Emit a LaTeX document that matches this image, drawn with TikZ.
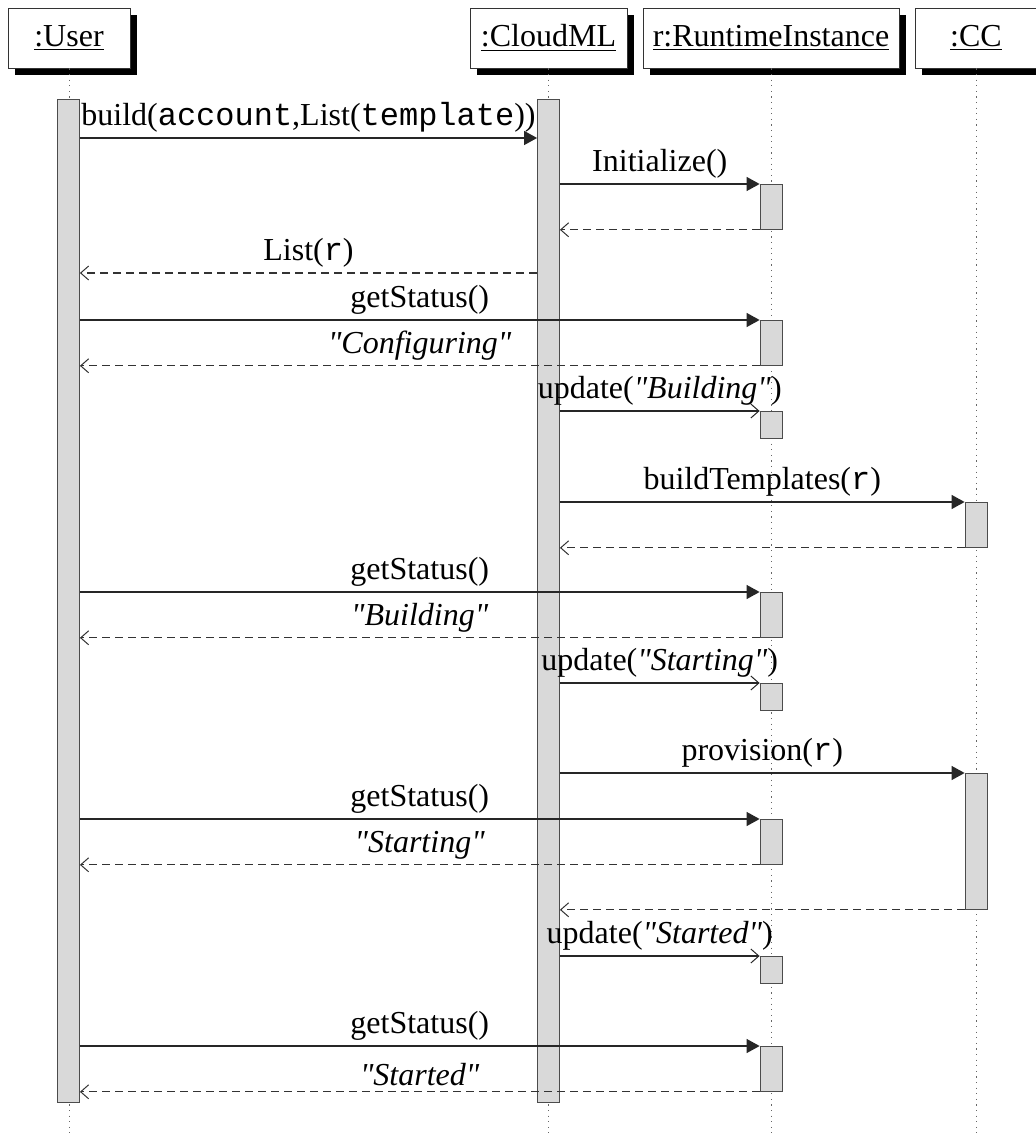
\documentclass[tikz,border=0pt]{standalone}
\usepackage{fontspec}
\setmainfont{Liberation Serif}[Ligatures=TeXOff]
\setmonofont{Liberation Mono}
\usetikzlibrary{arrows.meta, shadows}

\begin{document}
\begin{tikzpicture}[x=0.5pt, y=-0.5pt, font=\fontsize{16}{19}\selectfont,
  head/.style={draw=black!80, fill=white, minimum height=30pt, inner sep=0pt,
    drop shadow={shadow xshift=3.5pt, shadow yshift=-3.5pt, fill=black, opacity=1}},
  bar/.style={draw=black!70, fill=black!15, minimum width=11pt, inner sep=0pt, anchor=north},
  life/.style={black!60, dash pattern=on 0.6pt off 2.2pt},
  call/.style={draw=black!85, line width=0.6pt, -{Triangle[length=6.5pt,width=7pt]}},
  async/.style={draw=black!85, line width=0.6pt, -{Straight Barb[length=4pt,width=7pt,line width=0.5pt]}},
  ret/.style={draw=black!80, line width=0.6pt, dash pattern=on 4pt off 2.5pt,
    -{Straight Barb[length=4pt,width=7pt,line width=0.5pt]}},
  msg/.style={above, inner sep=2.5pt, midway}]
\useasboundingbox (0,0) rectangle (1035,1133);

% objects
\node[head, minimum width=61pt] (user) at (69,38) {\underline{:User}};
\node[head, minimum width=78.5pt] (cloud) at (548.5,38) {\underline{:CloudML}};
\node[head, minimum width=128pt] (rt) at (771,38) {\underline{r:RuntimeInstance}};
\node[head, minimum width=61pt] (cc) at (976,38) {\underline{:CC}};

% lifelines
\foreach \o in {user, cloud, rt, cc}
  \draw[life] (\o.south) -- (\o.south |- 0,1133);

% activations
\node[bar, minimum height=501.5pt] (ua) at (68.5,99) {};
\node[bar, minimum height=501.5pt] (ca) at (548.5,99) {};
\node[bar, minimum height=22.5pt] (r1) at (771,184) {};
\node[bar, minimum height=22.5pt] (r2) at (771,320) {};
\node[bar, minimum height=13.5pt] (r3) at (771,411) {};
\node[bar, minimum height=22.5pt] (r4) at (771,592) {};
\node[bar, minimum height=13.5pt] (r5) at (771,683) {};
\node[bar, minimum height=22.5pt] (r6) at (771,819) {};
\node[bar, minimum height=13.5pt] (r7) at (771,956) {};
\node[bar, minimum height=22.5pt] (r8) at (771,1046) {};
\node[bar, minimum height=22.5pt] (c1) at (976,502) {};
\node[bar, minimum height=68pt] (c2) at (976,773) {};
\coordinate (m1) at (0,138);
\coordinate (m2) at (0,273);

% messages
\draw[call] (ua.east |- m1) -- (ca.west |- m1)
  node[msg] {build(\texttt{account},List(\texttt{template}))};
\draw[call] (ca.east |- r1.north) -- (r1.north west) node[msg] {Initialize()};
\draw[ret] (r1.south west) -- (ca.east |- r1.south);
\draw[ret] (ca.west |- m2) -- (ua.east |- m2) node[msg] {List(\texttt{r})};
\draw[call] (ua.east |- r2.north) -- (r2.north west) node[msg] {getStatus()};
\draw[ret] (r2.south west) -- (ua.east |- r2.south) node[msg] {\textit{"Configuring"}};
\draw[async] (ca.east |- r3.north) -- (r3.north west) node[msg] {update(\textit{"Building"})};
\draw[call] (ca.east |- c1.north) -- (c1.north west) node[msg] {buildTemplates(\texttt{r})};
\draw[ret] (c1.south west) -- (ca.east |- c1.south);
\draw[call] (ua.east |- r4.north) -- (r4.north west) node[msg] {getStatus()};
\draw[ret] (r4.south west) -- (ua.east |- r4.south) node[msg] {\textit{"Building"}};
\draw[async] (ca.east |- r5.north) -- (r5.north west) node[msg] {update(\textit{"Starting"})};
\draw[call] (ca.east |- c2.north) -- (c2.north west) node[msg] {provision(\texttt{r})};
\draw[call] (ua.east |- r6.north) -- (r6.north west) node[msg] {getStatus()};
\draw[ret] (r6.south west) -- (ua.east |- r6.south) node[msg] {\textit{"Starting"}};
\draw[ret] (c2.south west) -- (ca.east |- c2.south);
\draw[async] (ca.east |- r7.north) -- (r7.north west) node[msg] {update(\textit{"Started"})};
\draw[call] (ua.east |- r8.north) -- (r8.north west) node[msg] {getStatus()};
\draw[ret] (r8.south west) -- (ua.east |- r8.south) node[msg] {\textit{"Started"}};
\end{tikzpicture}
\end{document}
